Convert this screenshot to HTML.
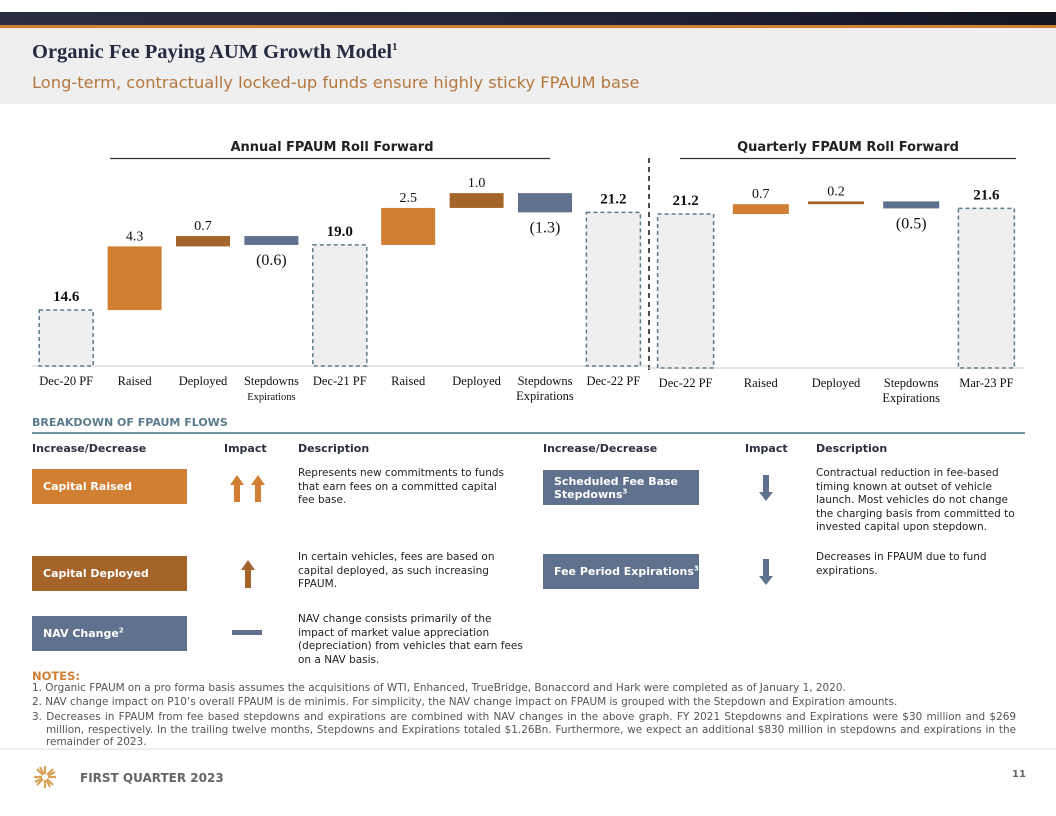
<!DOCTYPE html>
<html><head><meta charset="utf-8">
<style>
body{margin:0;width:1056px;height:816px;position:relative;background:#fff;overflow:hidden;font-family:"DejaVu Sans","Liberation Sans",sans-serif;}
.a{position:absolute;}
.hdr{font-size:11px;font-weight:bold;color:#2a2e40;}
.box{position:absolute;color:#fff;font-weight:bold;font-size:11px;display:flex;align-items:center;padding-left:11px;box-sizing:border-box;line-height:13px;}
.desc{position:absolute;font-size:10.5px;line-height:13.5px;color:#222;}
.note{position:absolute;left:32px;width:984px;font-size:10.45px;color:#555;line-height:13px;text-align:justify;}
sup{font-size:7px;vertical-align:super;line-height:0;}
</style></head><body>
<div class="a" style="left:0;top:12px;width:1056px;height:13px;background:linear-gradient(90deg,#2b2d45,#1f2236 60%,#121420)"></div>
<div class="a" style="left:0;top:25px;width:1056px;height:3px;background:#d07f33"></div>
<div class="a" style="left:0;top:28px;width:1056px;height:76px;background:#efefef"></div>
<div class="a" style="left:32px;top:41px;font-family:'Liberation Serif',serif;font-weight:bold;font-size:20.5px;color:#252a40">Organic Fee Paying AUM Growth Model<sup style="font-size:11px">1</sup></div>
<div class="a" style="left:32px;top:73px;font-size:16.3px;color:#b5773c">Long-term, contractually locked-up funds ensure highly sticky FPAUM base</div>

<svg class="a" style="left:0;top:0" width="1056" height="410" id="chart">
<text x="332" y="151" text-anchor="middle" font-family="DejaVu Sans" font-weight="bold" font-size="13" fill="#222">Annual FPAUM Roll Forward</text>
<line x1="110" x2="550" y1="158.5" y2="158.5" stroke="#333" stroke-width="1.2"/>
<text x="848" y="151" text-anchor="middle" font-family="DejaVu Sans" font-weight="bold" font-size="13" fill="#222">Quarterly FPAUM Roll Forward</text>
<line x1="680" x2="1016" y1="158.5" y2="158.5" stroke="#333" stroke-width="1.2"/>
<line x1="649" x2="649" y1="158" y2="372" stroke="#111" stroke-width="1.5" stroke-dasharray="5,4"/>
<g id="marks"></g>
</svg>

<div class="a" style="left:32px;top:416px;font-size:11px;font-weight:bold;color:#5a7c8c">BREAKDOWN OF FPAUM FLOWS</div>
<div class="a" style="left:32px;top:432px;width:993px;height:2px;background:#6f95a0"></div>
<div class="a hdr" style="left:32px;top:442px">Increase/Decrease</div>
<div class="a hdr" style="left:224px;top:442px">Impact</div>
<div class="a hdr" style="left:298px;top:442px">Description</div>
<div class="a hdr" style="left:543px;top:442px">Increase/Decrease</div>
<div class="a hdr" style="left:745px;top:442px">Impact</div>
<div class="a hdr" style="left:816px;top:442px">Description</div>

<div class="box" style="left:32px;top:469px;width:155px;height:35px;background:#d07f33"><span>Capital Raised</span></div>
<div class="box" style="left:32px;top:556px;width:155px;height:35px;background:#a5642a"><span>Capital Deployed</span></div>
<div class="box" style="left:32px;top:616px;width:155px;height:35px;background:#5f718c"><span>NAV Change<sup>2</sup></span></div>
<div class="box" style="left:543px;top:470px;width:156px;height:35px;background:#5f718c"><span>Scheduled Fee Base<br>Stepdowns<sup>3</sup></span></div>
<div class="box" style="left:543px;top:554px;width:156px;height:35px;background:#5f718c"><span>Fee Period Expirations<sup>3</sup></span></div>

<svg class="a" style="left:0;top:460px" width="1056" height="200">
<polygon points="237,15 230,25 234,25 234,42 240,42 240,25 244,25" fill="#d07f33"/>
<polygon points="258,15 251,25 255,25 255,42 261,42 261,25 265,25" fill="#d07f33"/>
<polygon points="248,100 241,110 245,110 245,128 251,128 251,110 255,110" fill="#a5642a"/>
<rect x="232" y="170" width="30" height="5" fill="#5f718c"/>
<polygon points="763,15 769,15 769,32 773,32 766,41 759,32 763,32" fill="#5f718c"/>
<polygon points="763,99 769,99 769,116 773,116 766,125 759,116 763,116" fill="#5f718c"/>
</svg>

<div class="desc" style="left:298px;top:467px;width:218px">Represents new commitments to funds that earn fees on a committed capital fee base.</div>
<div class="desc" style="left:298px;top:551px;width:200px">In certain vehicles, fees are based on capital deployed, as such increasing FPAUM.</div>
<div class="desc" style="left:298px;top:613px;width:230px">NAV change consists primarily of the impact of market value appreciation (depreciation) from vehicles that earn fees on a NAV basis.</div>
<div class="desc" style="left:816px;top:467px;width:212px">Contractual reduction in fee-based timing known at outset of vehicle launch. Most vehicles do not change the charging basis from committed to invested capital upon stepdown.</div>
<div class="desc" style="left:816px;top:551px;width:200px">Decreases in FPAUM due to fund expirations.</div>

<div class="a" style="left:32px;top:669px;font-size:11.5px;font-weight:bold;color:#d07f33">NOTES:</div>
<div class="note" style="top:682px">1. Organic FPAUM on a pro forma basis assumes the acquisitions of WTI, Enhanced, TrueBridge, Bonaccord and Hark were completed as of January 1, 2020.</div>
<div class="note" style="top:696px">2. NAV change impact on P10’s overall FPAUM is de minimis. For simplicity, the NAV change impact on FPAUM is grouped with the Stepdown and Expiration amounts.</div>
<div class="note" style="top:711px;padding-left:14px;text-indent:-14px;box-sizing:border-box;line-height:12.5px">3. Decreases in FPAUM from fee based stepdowns and expirations are combined with NAV changes in the above graph. FY 2021 Stepdowns and Expirations were $30 million and $269 million, respectively. In the trailing twelve months, Stepdowns and Expirations totaled $1.26Bn. Furthermore, we expect an additional $830 million in stepdowns and expirations in the remainder of 2023.</div>
<div class="a" style="left:0;top:748px;width:1056px;height:2px;background:#eee"></div>
<svg class="a" style="left:33px;top:765px" width="24" height="24">
<g stroke="#d9a35a" stroke-width="2.2">
<line x1="12" y1="1" x2="12" y2="23"/><line x1="1" y1="12" x2="23" y2="12"/>
<line x1="4" y1="4" x2="20" y2="20"/><line x1="20" y1="4" x2="4" y2="20"/>
<line x1="7" y1="2" x2="17" y2="22"/><line x1="2" y1="17" x2="22" y2="7"/></g>
<circle cx="12" cy="12" r="3" fill="#fff"/></svg>
<div class="a" style="left:80px;top:771px;font-size:12px;font-weight:bold;color:#666">FIRST QUARTER 2023</div>
<div class="a" style="left:1012px;top:769px;font-size:10px;font-weight:bold;color:#666">11</div>

<script>
const leftCategories = ["Dec-20 PF","Raised","Deployed","Stepdowns","Dec-21 PF","Raised","Deployed","Stepdowns","Dec-22 PF"];
const leftSub = ["","","","Expirations","","","","Expirations",""];
const leftValues = [14.6,4.3,0.7,-0.6,19.0,2.5,1.0,-1.3,21.2];
const leftKinds = ["total","raised","deployed","nav","total","raised","deployed","nav","total"];
const rightCategories = ["Dec-22 PF","Raised","Deployed","Stepdowns","Mar-23 PF"];
const rightSub = ["","","","Expirations",""];
const rightValues = [21.2,0.7,0.2,-0.5,21.6];
const rightKinds = ["total","raised","deployed","nav","total"];

const NS="http://www.w3.org/2000/svg";
const g=document.getElementById('marks');
const colors={raised:"#d07f33",deployed:"#a5642a",nav:"#5f718c"};
function mk(tag,attrs){const e=document.createElementNS(NS,tag);for(const k in attrs)e.setAttribute(k,attrs[k]);g.appendChild(e);return e;}
function fmt(v){return v<0?"("+Math.abs(v).toFixed(1)+")":v.toFixed(1);}
function drawPanel(cats,subs,vals,kinds,opt){
  const y=v=>opt.baseY-(v-opt.base)*opt.ppu;
  const x=i=>opt.x0+opt.step*(i+0.5);
  const ax=mk('line',{x1:opt.x0,x2:opt.x0+opt.step*cats.length,y1:opt.baseY,y2:opt.baseY,stroke:"#ccc","stroke-width":1});
  
  
  let run=0;
  vals.forEach((v,i)=>{
    const cx=x(i),w=opt.bw;
    let top,bot;
    if(kinds[i]==="total"){run=v;top=y(v);bot=opt.baseY;
      const r=mk('rect',{x:cx-w/2,y:top,width:w,height:bot-top,fill:"#efefef",stroke:"#5b7b8a","stroke-width":1.5,"stroke-dasharray":"4,3"});
      
      
      const t=mk('text',{x:cx,y:top-9,"text-anchor":"middle","font-family":"Liberation Serif, serif","font-weight":"bold","font-size":15,fill:"#111"});
      t.textContent=v.toFixed(1);
      
      
    } else {
      const a=run,b=run+v;run=b;
      top=y(Math.max(a,b));bot=y(Math.min(a,b));
      const r=mk('rect',{x:cx-w/2,y:top,width:w,height:Math.max(bot-top,2.5),fill:colors[kinds[i]]});
      
      
      const t=mk('text',{x:cx,"text-anchor":"middle","font-family":"Liberation Serif, serif",fill:"#111"});
      if(v>=0){t.setAttribute('y',top-6);t.setAttribute('font-size',14);}
      else{t.setAttribute('y',bot+20);t.setAttribute('font-size',16);}
      t.textContent=fmt(v);
      
      
    }
    const c=mk('text',{x:cx,y:opt.baseY+19,"text-anchor":"middle","font-family":"Liberation Serif, serif","font-size":12.5,fill:"#111"});
    c.textContent=cats[i];
    
    
    if(subs[i]){
      const s=mk('text',{x:cx,y:opt.baseY+34,"text-anchor":"middle","font-family":"Liberation Serif, serif","font-size":(opt.prefix==='annual'&&i===3)?10.5:12.5,fill:"#111"});
      s.textContent=subs[i];
      
      
    }
  });
}
drawPanel(leftCategories,leftSub,leftValues,leftKinds,{prefix:"annual",x0:32,step:68.4,bw:54,baseY:366,base:10.82,ppu:14.8});
drawPanel(rightCategories,rightSub,rightValues,rightKinds,{prefix:"quarterly",x0:648,step:75.2,bw:56,baseY:368,base:10.2,ppu:14});
</script>
</body></html>
